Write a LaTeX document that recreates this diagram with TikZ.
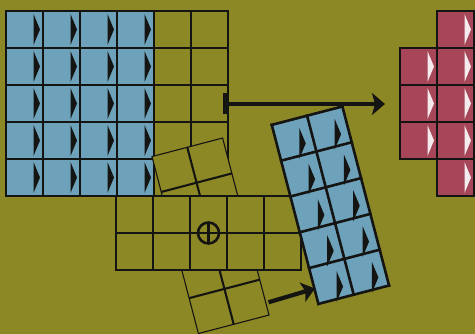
\documentclass[tikz,border=0pt]{standalone}
\usetikzlibrary{arrows.meta}
\definecolor{olivebg}{RGB}{141,136,38}
\definecolor{cellblue}{RGB}{110,162,186}
\definecolor{cellred}{RGB}{166,70,88}
\definecolor{ink}{RGB}{20,20,18}
\definecolor{spikewhite}{RGB}{245,235,238}
\tikzset{
  gridline/.style={draw=ink,line width=2.6pt,line cap=rect},
  thinedge/.style={draw=ink,line width=1.1pt},
  thininner/.style={draw=ink,line width=2.1pt},
  spkd/.pic={\fill[ink] (27.5,3) .. controls (30.5,10) .. (34,18.5) .. controls (30.5,27) .. (27.5,34) -- cycle;},
  spkw/.pic={\fill[spikewhite] (27.5,3) .. controls (30.5,10) .. (34,18.5) .. controls (30.5,27) .. (27.5,34) -- cycle;},
  bigarrow/.style={draw=ink,line width=4.2pt},
}
\begin{document}
\begin{tikzpicture}[x=1pt,y=-1pt]
\fill[olivebg] (0,0) rectangle (475,334);
\useasboundingbox (0,0) rectangle (475,334);
\clip (0,0) rectangle (475,334);

% main grid
\fill[cellblue] (6,11) rectangle (154,196);
\foreach \i in {0,...,3} \foreach \j in {0,...,4} \pic at ({6+37*\i},{11+37*\j}) {spkd};
\foreach \i in {0,...,6} \draw[gridline] ({6+37*\i},11) -- ({6+37*\i},196);
\foreach \j in {0,...,5} \draw[gridline] (6,{11+37*\j}) -- (228,{11+37*\j});

% rotated thin grid (partly hidden)
\begin{scope}[shift={(210.5,235.8)},rotate=14.7]
  \fill[olivebg] (-36.5,-91.5) rectangle (36.5,91.5);
  \draw[thininner] (0,-91.5) -- (0,91.5);
  \foreach \k in {-54.9,-18.3,18.3,54.9} \draw[thininner] (-36.5,\k) -- (36.5,\k);
  \draw[thinedge] (-36.5,-91.5) rectangle (36.5,91.5);
\end{scope}

% horizontal grid
\fill[olivebg] (116,196) rectangle (301,270);
\foreach \i in {0,...,5} \draw[gridline] ({116+37*\i},196) -- ({116+37*\i},270);
\foreach \j in {0,...,2} \draw[gridline] (116,{196+37*\j}) -- (301,{196+37*\j});
\draw[ink,line width=2.6pt] (208.5,233) circle (10.5);
\draw[ink,line width=2.6pt] (208.5,222.5) -- (208.5,243.5);

% rotated blue rectangle
\begin{scope}[shift={(330.4,205.2)},rotate=14.6]
  \fill[cellblue] (-36.5,-92.5) rectangle (36.5,92.5);
  \foreach \i in {0,1} \foreach \j in {0,...,4} \pic at ({-36.5+36.5*\i},{-92.5+37*\j}) {spkd};
  \foreach \x in {-36.5,0,36.5} \draw[gridline] (\x,-92.5) -- (\x,92.5);
  \foreach \j in {0,...,5} \draw[gridline] (-36.5,{-92.5+37*\j}) -- (36.5,{-92.5+37*\j});
\end{scope}

% red shape
\fill[cellred] (437,11) rectangle (477,196);
\fill[cellred] (400,48) rectangle (437,159);
\foreach \j in {0,...,4} \pic at (437,{11+37*\j}) {spkw};
\foreach \j in {1,...,3} \pic at (400,{11+37*\j}) {spkw};
\draw[gridline] (400,48) -- (400,159);
\draw[gridline] (437,11) -- (437,196);
\draw[gridline] (474,11) -- (474,196);
\draw[gridline] (437,11) -- (474,11);
\foreach \j in {1,...,4} \draw[gridline] (400,{11+37*\j}) -- (474,{11+37*\j});
\draw[gridline] (437,196) -- (474,196);

% arrows
\coordinate (t1) at (222.5,104);
\coordinate (t2) at (385,104);
\draw[bigarrow,{Bar[width=21pt]}-{Stealth[length=13pt,width=22pt,inset=3pt]}] (t1) -- (t2);
\coordinate (b1) at (268.5,302.3);
\coordinate (b2) at (315,288.5);
\draw[bigarrow,-{Stealth[length=13pt,width=20pt,inset=3pt]}] (b1) -- (b2);
\end{tikzpicture}
\end{document}
